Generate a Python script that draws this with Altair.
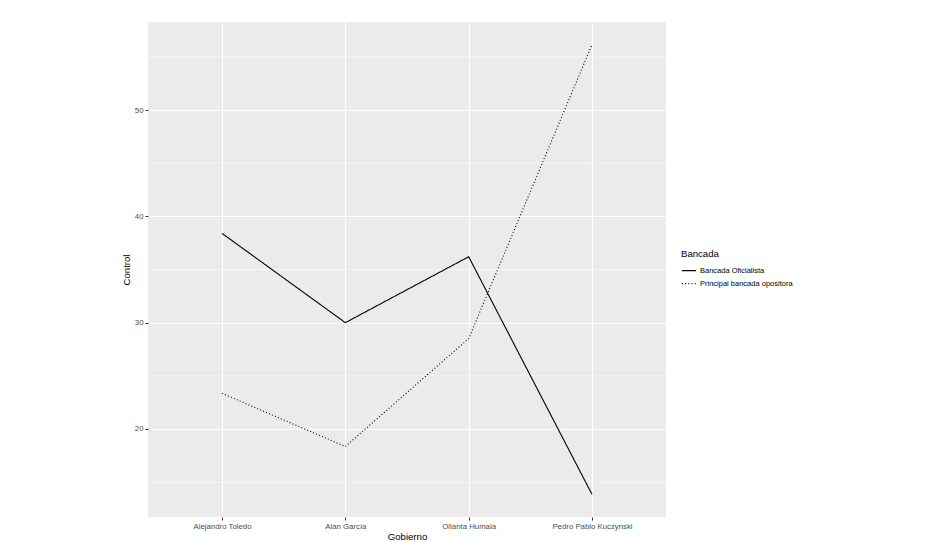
import altair as alt
import pandas as pd

gobiernos = ["Alejandro Toledo", "Alan García", "Ollanta Humala", "Pedro Pablo Kuczynski"]
bancadas = ["Bancada Oficialista", "Principal bancada opositora"]
oficialista = [38.4, 30.0, 36.2, 13.85]
opositora = [23.35, 18.35, 28.5, 56.15]
major_ticks = [20, 30, 40, 50]
minor_ticks = [15, 25, 35, 45, 55]
y_domain = [11.72, 58.28]

rows = []
for g, v in zip(gobiernos, oficialista):
    rows.append({"Gobierno": g, "Control": v, "Bancada": bancadas[0]})
for g, v in zip(gobiernos, opositora):
    rows.append({"Gobierno": g, "Control": v, "Bancada": bancadas[1]})
df = pd.DataFrame(rows)

FONT = "Liberation Sans"
yscale = alt.Scale(domain=y_domain, nice=False, zero=False)

yaxis = alt.Axis(
    title="Control",
    values=major_ticks,
    grid=True,
    gridColor="white",
    gridWidth=1.1,
    domain=False,
    tickColor="#333333",
    tickSize=3,
    tickWidth=1,
    labelColor="#4D4D4D",
    labelFontSize=7.8,
    labelPadding=2,
    labelFont=FONT,
    titleFont=FONT,
    titleFontSize=9.6,
    titleFontWeight="normal",
    titleColor="black",
    titlePadding=3,
)

minor = alt.Chart(pd.DataFrame({"Control": minor_ticks})).mark_rule(
    color="white", strokeWidth=0.55
).encode(y=alt.Y("Control:Q", scale=yscale, axis=yaxis, title="Control"))

lines = alt.Chart(df).mark_line(color="black", strokeWidth=1.1).encode(
    x=alt.X(
        "Gobierno:N",
        sort=gobiernos,
        scale=alt.Scale(type="point", padding=0.6),
        axis=alt.Axis(
            title="Gobierno",
            labelAngle=0,
            grid=True,
            gridColor="white",
            gridWidth=1.1,
            domain=False,
            tickColor="#333333",
            tickSize=3,
            tickWidth=1,
            labelColor="#4D4D4D",
            labelFontSize=7.8,
            labelPadding=2,
            labelFont=FONT,
            titleFont=FONT,
            titleFontSize=9.6,
            titleFontWeight="normal",
            titleColor="black",
            titlePadding=2,
        ),
    ),
    y=alt.Y("Control:Q", scale=yscale, axis=yaxis, title="Control"),
    strokeDash=alt.StrokeDash(
        "Bancada:N",
        scale=alt.Scale(domain=bancadas, range=[[1, 0], [1, 2.2]]),
        legend=alt.Legend(
            title="Bancada",
            orient="none",
            legendX=533,
            legendY=227,
            titleFont=FONT,
            titleFontSize=9.6,
            titleFontWeight="normal",
            titleColor="black",
            labelFont=FONT,
            labelFontSize=7.5,
            labelColor="black",
            symbolType="stroke",
            symbolStrokeColor="black",
            symbolStrokeWidth=1.1,
            symbolSize=200,
            rowPadding=1,
            labelOffset=3,
            titlePadding=4,
        ),
    ),
)

chart = (
    alt.layer(minor, lines)
    .properties(
        width=518,
        height=495,
        autosize=alt.AutoSizeParams(type="none"),
        padding={"left": 140, "top": 14, "right": 253, "bottom": 26},
        background="white",
    )
    .configure_view(fill="#EBEBEB", strokeWidth=0, stroke=None)
)

chart.save("out.html", embed_options={"renderer": "svg", "actions": False})
